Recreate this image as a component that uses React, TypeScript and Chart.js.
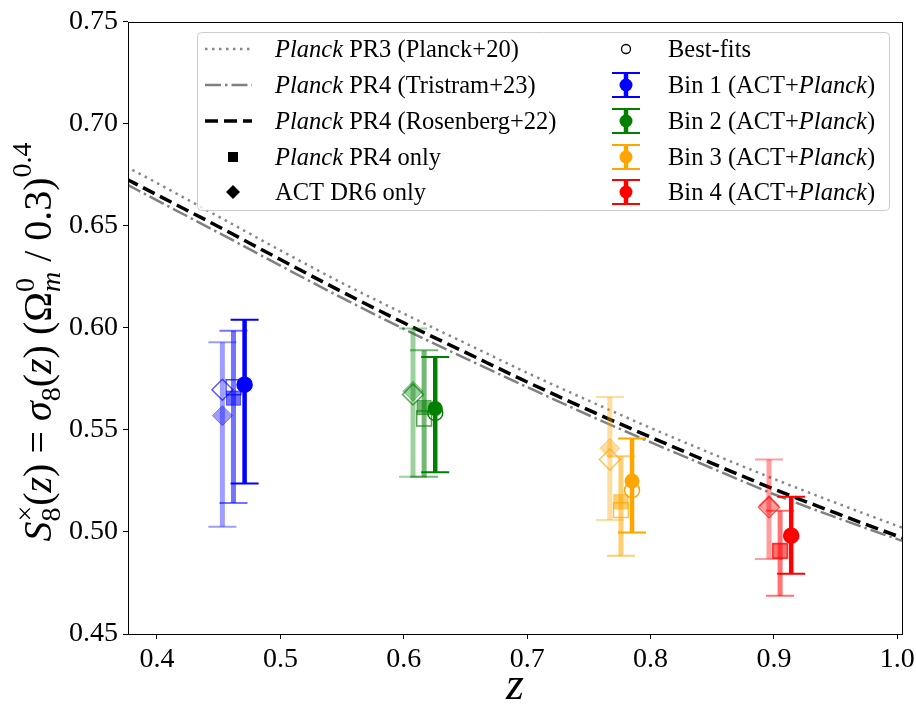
import React, { useEffect, useRef } from "react";
import { Chart, registerables } from "chart.js";

Chart.register(...registerables);

const FONT = "'Liberation Serif', 'DejaVu Serif', serif";

// ---- theory curves ----
const Z_CURVE = [0.375, 0.4, 0.45, 0.5, 0.55, 0.6, 0.65, 0.7, 0.75, 0.8, 0.85, 0.9, 0.95, 1.0, 1.01];
const S8_PR3 = [0.679, 0.671, 0.6545, 0.638, 0.622, 0.607, 0.5925, 0.578, 0.5643, 0.551, 0.5383, 0.526, 0.5143, 0.503, 0.5008];
const S8_TRISTRAM = [0.6705, 0.6625, 0.6466, 0.6305, 0.6147, 0.5995, 0.5851, 0.571, 0.5572, 0.544, 0.5312, 0.5185, 0.5072, 0.4965, 0.4945];
const S8_ROSENBERG = [0.673, 0.6652, 0.6496, 0.6335, 0.6177, 0.6025, 0.588, 0.5735, 0.5597, 0.5465, 0.5336, 0.521, 0.5093, 0.498, 0.4958];

// ---- measurements ----
const BIN_COLORS = ["#0000ff", "#008000", "#ffa500", "#ff0000"];
const BIN_LABELS = ["Bin 1", "Bin 2", "Bin 3", "Bin 4"];

const Z_ACT = [0.453, 0.6075, 0.767, 0.896];
const ACT_MEAN = [0.557, 0.569, 0.541, 0.513];
const ACT_LO = [0.5026, 0.527, 0.5059, 0.4867];
const ACT_HI = [0.593, 0.5997, 0.5661, 0.5355];
const ACT_BEST = [0.5697, 0.5674, 0.5355, 0.5121];

const Z_PR4 = [0.462, 0.6165, 0.776, 0.905];
const PR4_MEAN = [0.5656, 0.561, 0.5148, 0.4907];
const PR4_LO = [0.5142, 0.527, 0.4883, 0.4687];
const PR4_HI = [0.5986, 0.589, 0.5371, 0.5104];
const PR4_BEST = [0.5709, 0.5556, 0.5107, 0.4907];

const Z_JOINT = [0.471, 0.6255, 0.785, 0.914];
const JOINT_MEAN = [0.5722, 0.5605, 0.525, 0.4982];
const JOINT_LO = [0.5238, 0.5293, 0.4997, 0.4795];
const JOINT_HI = [0.604, 0.5857, 0.5458, 0.5173];
const JOINT_BEST = [0.5722, 0.5583, 0.5205, 0.4982];

const X_TICKS = [0.4, 0.5, 0.6, 0.7, 0.8, 0.9, 1.0];
const Y_TICKS = [0.45, 0.5, 0.55, 0.6, 0.65, 0.7, 0.75];

const A_ACT = 0.38;
const A_PR4 = 0.55;

function rgba(hex: string, a: number) {
  const n = parseInt(hex.slice(1), 16);
  return `rgba(${(n >> 16) & 255},${(n >> 8) & 255},${n & 255},${a})`;
}

type Seg = { t: string; it?: boolean; s?: number; dy?: number; noAdv?: boolean };

function drawRich(ctx: CanvasRenderingContext2D, segs: Seg[], size: number, x: number, y: number, align: "left" | "center") {
  const measure = () => {
    let w = 0;
    let pend = 0;
    for (const sg of segs) {
      ctx.font = `${sg.it ? "italic " : ""}${size * (sg.s ?? 1)}px ${FONT}`;
      const m = ctx.measureText(sg.t).width;
      if (sg.noAdv) pend = m;
      else {
        w += Math.max(m, pend);
        pend = 0;
      }
    }
    return w;
  };
  const total = measure();
  let cx = align === "center" ? x - total / 2 : x;
  let pend = 0;
  ctx.textAlign = "left";
  ctx.textBaseline = "alphabetic";
  for (const sg of segs) {
    ctx.font = `${sg.it ? "italic " : ""}${size * (sg.s ?? 1)}px ${FONT}`;
    const m = ctx.measureText(sg.t).width;
    ctx.fillText(sg.t, cx, y + (sg.dy ?? 0) * size);
    if (sg.noAdv) pend = m;
    else {
      cx += Math.max(m, pend);
      pend = 0;
    }
  }
}

const errorBarPlugin = {
  id: "errbars",
  beforeDatasetDraw(chart: any, args: any) {
    const ds = chart.data.datasets[args.index];
    if (!ds.errLo) return;
    const { ctx, scales } = chart;
    const xs = scales.x;
    const ys = scales.y;
    ctx.save();
    ds.data.forEach((p: any, i: number) => {
      const px = xs.getPixelForValue(p.x);
      const lo = ys.getPixelForValue(ds.errLo[i]);
      const hi = ys.getPixelForValue(ds.errHi[i]);
      ctx.strokeStyle = ds.errColors[i];
      ctx.lineWidth = ds.errWidth;
      ctx.lineCap = "butt";
      ctx.beginPath();
      ctx.moveTo(px, lo);
      ctx.lineTo(px, hi);
      ctx.stroke();
      ctx.lineWidth = 2;
      ctx.beginPath();
      ctx.moveTo(px - 14, lo);
      ctx.lineTo(px + 14, lo);
      ctx.moveTo(px - 14, hi);
      ctx.lineTo(px + 14, hi);
      ctx.stroke();
    });
    ctx.restore();
  },
};

const frameAndLabelsPlugin = {
  id: "frameLabels",
  afterDraw(chart: any) {
    const { ctx, chartArea: ca } = chart;
    ctx.save();
    // frame
    ctx.strokeStyle = "#000";
    ctx.lineWidth = 1;
    ctx.strokeRect(Math.round(ca.left) + 0.5, Math.round(ca.top) + 0.5, Math.round(ca.right - ca.left), Math.round(ca.bottom - ca.top));

    // legend box
    const bx = 197, by = 32, bw = 692, bh = 178;
    ctx.fillStyle = "rgba(255,255,255,0.8)";
    ctx.strokeStyle = "#cccccc";
    ctx.lineWidth = 1;
    ctx.beginPath();
    (ctx as any).roundRect(bx + 0.5, by + 0.5, bw, bh, 4);
    ctx.fill();
    ctx.stroke();

    const rows = [49, 85, 121, 157, 192];
    const fs = 24.5;
    ctx.fillStyle = "#000";
    const lineEntries: { segs: Seg[]; color: string; width: number; dash: number[] }[] = [
      { segs: [{ t: "Planck", it: true }, { t: " PR3 (Planck+20)" }], color: "#888888", width: 2.5, dash: [2.5, 4.5] },
      { segs: [{ t: "Planck", it: true }, { t: " PR4 (Tristram+23)" }], color: "#808080", width: 2.5, dash: [16, 4, 2.5, 4] },
      { segs: [{ t: "Planck", it: true }, { t: " PR4 (Rosenberg+22)" }], color: "#000000", width: 3.5, dash: [13, 6] },
    ];
    lineEntries.forEach((e, i) => {
      const y = rows[i];
      ctx.strokeStyle = e.color;
      ctx.lineWidth = e.width;
      ctx.setLineDash(e.dash);
      ctx.beginPath();
      ctx.moveTo(205, y);
      ctx.lineTo(252, y);
      ctx.stroke();
      ctx.setLineDash([]);
      ctx.fillStyle = "#000";
      drawRich(ctx, e.segs, fs, 275, y + 8, "left");
    });
    // square
    ctx.fillStyle = "#000";
    ctx.fillRect(228, rows[3] - 5, 10, 10);
    drawRich(ctx, [{ t: "Planck", it: true }, { t: " PR4 only" }], fs, 275, rows[3] + 8, "left");
    // diamond
    ctx.beginPath();
    ctx.moveTo(233, rows[4] - 7);
    ctx.lineTo(240, rows[4]);
    ctx.lineTo(233, rows[4] + 7);
    ctx.lineTo(226, rows[4]);
    ctx.closePath();
    ctx.fill();
    drawRich(ctx, [{ t: "ACT DR6 only" }], fs, 275, rows[4] + 8, "left");

    // right column
    const mx = 626;
    ctx.strokeStyle = "#000";
    ctx.lineWidth = 1.3;
    ctx.beginPath();
    ctx.arc(mx, rows[0], 4.5, 0, Math.PI * 2);
    ctx.stroke();
    drawRich(ctx, [{ t: "Best-fits" }], fs, 668, rows[0] + 8, "left");
    BIN_COLORS.forEach((c, i) => {
      const y = rows[i + 1];
      ctx.strokeStyle = c;
      ctx.lineWidth = 4.5;
      ctx.beginPath();
      ctx.moveTo(mx, y - 12);
      ctx.lineTo(mx, y + 12);
      ctx.stroke();
      ctx.lineWidth = 2;
      ctx.beginPath();
      ctx.moveTo(mx - 14, y - 12);
      ctx.lineTo(mx + 14, y - 12);
      ctx.moveTo(mx - 14, y + 12);
      ctx.lineTo(mx + 14, y + 12);
      ctx.stroke();
      ctx.fillStyle = c;
      ctx.beginPath();
      ctx.arc(mx, y, 6.5, 0, Math.PI * 2);
      ctx.fill();
      ctx.fillStyle = "#000";
      drawRich(ctx, [{ t: BIN_LABELS[i] + " (ACT+" }, { t: "Planck", it: true }, { t: ")" }], fs, 668, y + 8, "left");
    });

    // y axis title
    ctx.save();
    ctx.translate(51, 342);
    ctx.rotate(-Math.PI / 2);
    ctx.fillStyle = "#000";
    const F = 40;
    drawRich(
      ctx,
      [
        { t: "S", it: true },
        { t: "8", s: 0.7, dy: 0.22, noAdv: true },
        { t: "×", s: 0.7, dy: -0.42 },
        { t: "(" },
        { t: "z", it: true },
        { t: ")" },
        { t: " = " },
        { t: "σ", it: true },
        { t: "8", s: 0.7, dy: 0.22 },
        { t: "(" },
        { t: "z", it: true },
        { t: ") (" },
        { t: "Ω" },
        { t: "m", it: true, s: 0.7, dy: 0.22, noAdv: true },
        { t: "0", s: 0.7, dy: -0.42 },
        { t: " / 0.3)" },
        { t: "0.4", s: 0.7, dy: -0.5 },
      ],
      F,
      0,
      0,
      "center"
    );
    ctx.restore();
    ctx.restore();
  },
};

function pts(zs: number[], vs: number[]) {
  return zs.map((z, i) => ({ x: z, y: vs[i] }));
}

export default function App() {
  const ref = useRef<HTMLCanvasElement | null>(null);
  useEffect(() => {
    if (!ref.current) return;
    const curve = (label: string, vals: number[], color: string, width: number, dash: number[]) => ({
      type: "line" as const,
      label,
      data: pts(Z_CURVE, vals),
      borderColor: color,
      borderWidth: width,
      borderDash: dash,
      pointRadius: 0,
      fill: false,
      cubicInterpolationMode: "monotone" as const,
      order: 100,
    });
    const datasets: any[] = [
      curve("Planck PR3 (Planck+20)", S8_PR3, "#888888", 2.5, [2.5, 4.5]),
      curve("Planck PR4 (Tristram+23)", S8_TRISTRAM, "#808080", 2.5, [16, 4, 2.5, 4]),
      curve("Planck PR4 (Rosenberg+22)", S8_ROSENBERG, "#000000", 3.5, [13, 6]),
      {
        type: "scatter",
        label: "ACT DR6 only",
        data: pts(Z_ACT, ACT_MEAN),
        pointStyle: "rectRot",
        pointRadius: 10,
        pointBackgroundColor: BIN_COLORS.map((c) => rgba(c, A_ACT)),
        pointBorderColor: BIN_COLORS.map((c) => rgba(c, A_ACT)),
        pointBorderWidth: 1,
        errLo: ACT_LO,
        errHi: ACT_HI,
        errColors: BIN_COLORS.map((c) => rgba(c, A_ACT)),
        errWidth: 5,
        order: 60,
      },
      {
        type: "scatter",
        label: "ACT DR6 best-fit",
        data: pts(Z_ACT, ACT_BEST),
        pointStyle: "rectRot",
        pointRadius: 10.5,
        pointBackgroundColor: "rgba(0,0,0,0)",
        pointBorderColor: BIN_COLORS.map((c) => rgba(c, 0.65)),
        pointBorderWidth: 1.5,
        order: 50,
      },
      {
        type: "scatter",
        label: "Planck PR4 only",
        data: pts(Z_PR4, PR4_MEAN),
        pointStyle: "rect",
        pointRadius: 10,
        pointBackgroundColor: BIN_COLORS.map((c) => rgba(c, A_PR4)),
        pointBorderColor: BIN_COLORS.map((c) => rgba(c, A_PR4)),
        pointBorderWidth: 1,
        errLo: PR4_LO,
        errHi: PR4_HI,
        errColors: BIN_COLORS.map((c) => rgba(c, A_PR4)),
        errWidth: 5,
        order: 40,
      },
      {
        type: "scatter",
        label: "Planck PR4 best-fit",
        data: pts(Z_PR4, PR4_BEST),
        pointStyle: "rect",
        pointRadius: 10.5,
        pointBackgroundColor: "rgba(0,0,0,0)",
        pointBorderColor: BIN_COLORS.map((c) => rgba(c, 0.7)),
        pointBorderWidth: 1.5,
        order: 30,
      },
      {
        type: "scatter",
        label: "ACT+Planck",
        data: pts(Z_JOINT, JOINT_MEAN),
        pointStyle: "circle",
        pointRadius: 7.5,
        pointBackgroundColor: BIN_COLORS,
        pointBorderColor: BIN_COLORS,
        pointBorderWidth: 0,
        errLo: JOINT_LO,
        errHi: JOINT_HI,
        errColors: BIN_COLORS,
        errWidth: 4.5,
        order: 20,
      },
      {
        type: "scatter",
        label: "ACT+Planck best-fit",
        data: pts(Z_JOINT, JOINT_BEST),
        pointStyle: "circle",
        pointRadius: 7.5,
        pointBackgroundColor: "rgba(0,0,0,0)",
        pointBorderColor: BIN_COLORS,
        pointBorderWidth: 1.5,
        order: 10,
      },
    ];

    const chart = new Chart(ref.current, {
      type: "scatter",
      data: { datasets },
      plugins: [errorBarPlugin, frameAndLabelsPlugin],
      options: {
        animation: false,
        responsive: false,
        layout: { padding: { top: 20, right: 14, left: 0, bottom: 0 } },
        plugins: { legend: { display: false }, tooltip: { enabled: false } },
        scales: {
          x: {
            type: "linear",
            min: 0.3765,
            max: 1.0038,
            afterBuildTicks: (s: any) => {
              s.ticks = X_TICKS.map((v) => ({ value: v }));
            },
            afterFit: (s: any) => {
              s.height = 81;
              s.paddingLeft = 0;
              s.paddingRight = 0;
            },
            grid: { display: true, drawOnChartArea: false, drawTicks: true, tickLength: 5, color: "#000" },
            border: { display: false },
            ticks: {
              color: "#000",
              padding: 4,
              font: { family: FONT, size: 28 },
              callback: (v: any) => Number(v).toFixed(1),
            },
            title: {
              display: true,
              text: "z",
              color: "#000",
              font: { family: FONT, size: 46, style: "italic" },
              padding: { top: 0, bottom: 0 },
            },
          },
          y: {
            type: "linear",
            min: 0.45,
            max: 0.75,
            afterBuildTicks: (s: any) => {
              s.ticks = Y_TICKS.map((v) => ({ value: v }));
            },
            afterFit: (s: any) => {
              s.width = 128;
            },
            grid: { display: true, drawOnChartArea: false, drawTicks: true, tickLength: 5, color: "#000" },
            border: { display: false },
            ticks: {
              color: "#000",
              padding: 5,
              font: { family: FONT, size: 28 },
              callback: (v: any) => Number(v).toFixed(2),
            },
          },
        },
      },
    });
    return () => chart.destroy();
  }, []);
  return (
    <div style={{ position: "fixed", left: 0, top: 0, width: 916, height: 715, background: "#fff" }}>
      <canvas ref={ref} width={916} height={715} />
    </div>
  );
}
